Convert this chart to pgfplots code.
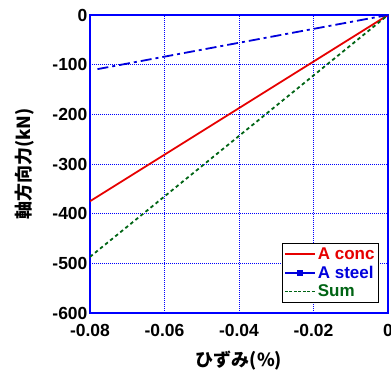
\documentclass[border=0pt]{standalone}
\usepackage{pgfplots}
\pgfplotsset{compat=1.18}
\usepackage{fontspec}
\setmainfont{Liberation Sans}
\newfontfamily\cjk{Noto Sans CJK JP}
\definecolor{cred}{RGB}{230,0,0}
\definecolor{cblue}{RGB}{0,0,220}
\definecolor{cgreen}{RGB}{0,100,20}
\definecolor{gridblue}{RGB}{0,0,255}
\begin{document}
\begin{tikzpicture}
\begin{axis}[
  name=ax,
  width=298pt, height=298pt, scale only axis,
  xmin=-0.08, xmax=0, ymin=-600, ymax=0,
  xtick={-0.08,-0.06,-0.04,-0.02,0},
  ytick={-600,-500,-400,-300,-200,-100,0},
  xticklabels={-0.08,-0.06,-0.04,-0.02,0},
  yticklabels={-600,-500,-400,-300,-200,-100,0},
  scaled x ticks=false,
  tick label style={font=\fontsize{17.5}{19}\selectfont\bfseries},
  xticklabel style={yshift=-8pt},
  yticklabel style={xshift=1pt},
  /pgf/number format/assume math mode=true,
  axis line style={gridblue, line width=1.6pt},
  tick style={draw=none},
  grid=major,
  major grid style={gridblue, dash pattern=on 1pt off 1pt, line width=0.8pt},
  xlabel={\cjk\bfseries ひずみ(\%)},
  ylabel={\cjk\bfseries 軸方向力(kN)},
  label style={font=\fontsize{18}{20}\selectfont},
  xlabel style={yshift=-7pt},
  ylabel style={yshift=11pt},
  legend style={draw=black, line width=1pt, font=\fontsize{17}{19}\selectfont\bfseries,
    fill=white, at={(0.97,0.035)}, anchor=south east, inner sep=2pt, row sep=1pt,
    legend cell align=left},
  legend image code/.code={
    \draw[#1] (0cm,0cm) -- (30pt,0cm);
    \path[#1, solid, mark repeat=1, mark phase=1] plot coordinates {(15pt,0cm)};
  },
]
\addplot[cred, line width=1.8pt] coordinates {(-0.08,-375) (0,0)};
\addlegendentry{\textcolor{cred}{A conc}}
\addlegendimage{cblue, line width=1.8pt, mark=square*, mark size=2pt}
\addlegendentry{\textcolor{cblue}{A steel}}
\addlegendimage{cgreen, line width=1.6pt, dash pattern=on 3pt off 1.5pt}
\addlegendentry{\textcolor{cgreen}{Sum}}
\addplot[cblue, line width=1.8pt, dash pattern=on 11pt off 4pt on 3pt off 4pt, forget plot] coordinates {(-0.078,-109) (0,0)};
\addplot[cgreen, line width=1.8pt, dash pattern=on 3.5pt off 3pt, forget plot] coordinates {(-0.08,-487) (0,0)};
\end{axis}
\pgfresetboundingbox
\path (ax.south west) ++(-90pt,-59pt) coordinate (bl);
\path (ax.north east) ++(3pt,15pt) coordinate (tr);
\path (bl) rectangle (tr);
\end{tikzpicture}
\end{document}
